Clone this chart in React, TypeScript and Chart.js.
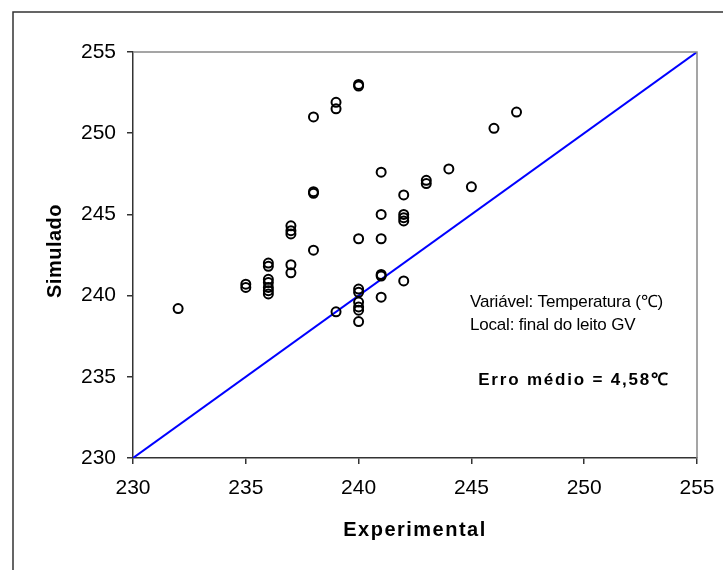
import React, { useEffect, useRef } from "react";
import { Chart, registerables } from "chart.js";

Chart.register(...registerables);

const experimental = [
  232,
  235, 235,
  236, 236, 236, 236, 236, 236, 236,
  237, 237, 237, 237, 237,
  238, 238, 238, 238,
  239, 239, 239,
  240, 240, 240, 240, 240, 240, 240, 240, 240,
  241, 241, 241, 241, 241, 241,
  242, 242, 242, 242, 242,
  243, 243,
  244,
  245,
  246,
  247,
];
const simulated = [
  239.2,
  240.7, 240.5,
  242.0, 241.8, 241.0, 240.8, 240.5, 240.3, 240.1,
  244.3, 244.0, 243.8, 241.9, 241.4,
  251.0, 246.4, 246.3, 242.8,
  251.9, 251.5, 239.0,
  253.0, 252.9, 243.5, 240.4, 240.2, 239.6, 239.3, 239.1, 238.4,
  247.6, 245.0, 243.5, 241.3, 241.2, 239.9,
  246.2, 245.0, 244.8, 244.6, 240.9,
  247.1, 246.9,
  247.8,
  246.7,
  250.3,
  251.3,
];
const identityX = [230, 255];
const identityY = [230, 255];
const axisMin = 230;
const axisMax = 255;
const tickStep = 5;
const xTitle = "Experimental";
const yTitle = "Simulado";
const noteLines = ["Variável: Temperatura (℃)", "Local: final do leito GV"];
const errorNote = "Erro médio = 4,58℃";

const FONT = "'Liberation Sans', Arial, sans-serif";

const decorPlugin = {
  id: "decor",
  beforeDraw(chart: any) {
    const ctx = chart.ctx;
    ctx.save();
    ctx.fillStyle = "#ffffff";
    ctx.fillRect(0, 0, chart.width, chart.height);
    ctx.strokeStyle = "#333333";
    ctx.lineWidth = 1.5;
    ctx.beginPath();
    ctx.moveTo(13, chart.height + 2);
    ctx.lineTo(13, 12);
    ctx.lineTo(chart.width + 2, 12);
    ctx.stroke();
    ctx.restore();
  },
  afterDraw(chart: any) {
    const ctx = chart.ctx;
    const a = chart.chartArea;
    ctx.save();
    ctx.strokeStyle = "#888888";
    ctx.lineWidth = 1.5;
    ctx.beginPath();
    ctx.moveTo(a.left, a.top);
    ctx.lineTo(a.right, a.top);
    ctx.lineTo(a.right, a.bottom);
    ctx.stroke();

    ctx.fillStyle = "#000000";
    ctx.font = `bold 20px ${FONT}`;
    (ctx as any).letterSpacing = "1.5px";
    ctx.textAlign = "center";
    ctx.textBaseline = "middle";
    ctx.fillText(xTitle, (a.left + a.right) / 2, 530);
    (ctx as any).letterSpacing = "0.5px";
    ctx.save();
    ctx.translate(55, (a.top + a.bottom) / 2 - 4);
    ctx.rotate(-Math.PI / 2);
    ctx.fillText(yTitle, 0, 0);
    ctx.restore();

    (ctx as any).letterSpacing = "-0.2px";
    ctx.font = `17px ${FONT}`;
    ctx.textAlign = "left";
    ctx.fillText(noteLines[0], 470, 302);
    ctx.fillText(noteLines[1], 470, 325);
    ctx.font = `bold 17px ${FONT}`;
    (ctx as any).letterSpacing = "1.8px";
    ctx.textAlign = "center";
    ctx.fillText(errorNote, 574, 380);
    ctx.restore();
  },
};

export default function App() {
  const ref = useRef<HTMLCanvasElement | null>(null);
  useEffect(() => {
    if (!ref.current) return;
    const points = experimental.map((x, i) => ({ x, y: simulated[i] }));
    const line = identityX.map((x, i) => ({ x, y: identityY[i] }));
    const chart = new Chart(ref.current, {
      type: "scatter",
      data: {
        datasets: [
          {
            type: "line",
            data: line,
            borderColor: "#0000ff",
            borderWidth: 2,
            pointRadius: 0,
            fill: false,
            order: 2,
          } as any,
          {
            data: points,
            pointStyle: "circle",
            pointRadius: 4.5,
            borderColor: "#000000",
            borderWidth: 2,
            backgroundColor: "rgba(0,0,0,0)",
            order: 1,
          },
        ],
      },
      options: {
        responsive: false,
        animation: false,
        layout: { padding: { left: 0, top: 52, right: 26, bottom: 0 } },
        plugins: {
          legend: { display: false },
          tooltip: { enabled: false },
        },
        scales: {
          x: {
            type: "linear",
            min: axisMin,
            max: axisMax,
            ticks: {
              stepSize: tickStep,
              color: "#000",
              font: { family: FONT, size: 21 },
              padding: 12,
            },
            grid: {
              drawOnChartArea: false,
              drawTicks: true,
              tickLength: 6,
              color: "#333333",
              lineWidth: 1.5,
            },
            border: { display: true, color: "#333333", width: 1.5 },
            afterFit(scale: any) {
              scale.height = 112;
              scale.paddingRight = 0;
              scale.paddingLeft = 0;
            },
          },
          y: {
            type: "linear",
            min: axisMin,
            max: axisMax,
            ticks: {
              stepSize: tickStep,
              color: "#000",
              font: { family: FONT, size: 21 },
              padding: 11,
            },
            grid: {
              drawOnChartArea: false,
              drawTicks: true,
              tickLength: 6,
              color: "#333333",
              lineWidth: 1.5,
            },
            border: { display: true, color: "#333333", width: 1.5 },
            afterFit(scale: any) {
              scale.width = 133;
              scale.paddingTop = 0;
              scale.paddingBottom = 0;
            },
          },
        },
      },
      plugins: [decorPlugin],
    });
    return () => chart.destroy();
  }, []);
  return (
    <div style={{ position: "absolute", left: 0, top: 0, width: 723, height: 570 }}>
      <canvas ref={ref} width={723} height={570} style={{ display: "block" }} />
    </div>
  );
}
